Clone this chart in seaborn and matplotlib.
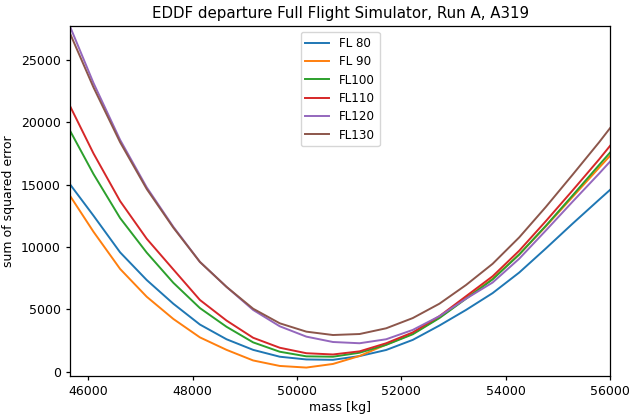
import matplotlib
matplotlib.use("Agg")
import matplotlib.pyplot as plt
import seaborn as sns
import pandas as pd

# mass grid [kg]
mass = [45590, 46100, 46610, 47120, 47630, 48140, 48650, 49160, 49670, 50180, 50690,
        51200, 51710, 52220, 52730, 53240, 53750, 54260, 54770, 55280, 55790, 56300]

levels = ["FL 80", "FL 90", "FL100", "FL110", "FL120", "FL130"]

# sum of squared error per flight level
fl080 = [15360, 12510, 9570, 7350, 5450, 3780, 2600, 1750, 1200, 980, 950,
         1250, 1740, 2550, 3700, 4950, 6300, 7950, 9880, 11860, 13790, 15700]
fl090 = [14490, 11220, 8240, 6010, 4230, 2750, 1750, 900, 460, 330, 620,
         1260, 2170, 3050, 4350, 5900, 7450, 9400, 11650, 14000, 16350, 18680]
fl100 = [19790, 15850, 12320, 9550, 7130, 5100, 3600, 2350, 1600, 1230, 1200,
         1520, 2150, 3000, 4300, 5850, 7400, 9400, 11700, 14120, 16570, 18990]
fl110 = [21810, 17500, 13680, 10660, 8200, 5750, 4100, 2720, 1920, 1480, 1380,
         1630, 2280, 3150, 4450, 6050, 7650, 9700, 12070, 14520, 17020, 19660]
fl120 = [28290, 23150, 18590, 14780, 11620, 8800, 6800, 4950, 3640, 2810, 2380,
         2280, 2600, 3350, 4450, 5850, 7150, 9060, 11320, 13620, 15880, 18220]
fl130 = [27700, 22800, 18400, 14650, 11550, 8800, 6800, 5050, 3880, 3210, 2940,
         3020, 3480, 4300, 5450, 6950, 8650, 10770, 13210, 15780, 18390, 21150]

series = [fl080, fl090, fl100, fl110, fl120, fl130]
frames = []
for name, vals in zip(levels, series):
    frames.append(pd.DataFrame({"mass": mass, "sse": vals, "level": name}))
df = pd.concat(frames, ignore_index=True)

plt.rcParams.update({
    "font.size": 9,
    "axes.titlesize": 10.8,
    "axes.labelsize": 9,
    "xtick.labelsize": 9,
    "ytick.labelsize": 9,
    "legend.fontsize": 8.6,
    "legend.labelspacing": 0.45,
    "axes.linewidth": 0.9,
    "xtick.major.width": 0.9,
    "ytick.major.width": 0.9,
    "xtick.major.size": 3.2,
    "ytick.major.size": 3.2,
})

fig = plt.figure(figsize=(6.29, 4.16), dpi=100)
ax = fig.add_axes([0.1113, 0.0962, 0.8585, 0.8413])

sns.lineplot(data=df, x="mass", y="sse", hue="level", hue_order=levels,
             palette="tab10", errorbar=None, sort=False, linewidth=1.4, ax=ax)

ax.set_xlim(45650, 56000)
ax.set_ylim(-345, 27720)
ax.set_xticks([46000, 48000, 50000, 52000, 54000, 56000])
ax.set_xlabel("mass [kg]", labelpad=2)
ax.set_ylabel("sum of squared error")
ax.set_title("EDDF departure Full Flight Simulator, Run A, A319", pad=6)
sns.move_legend(ax, "upper center", title=None)

fig.savefig("out.png", dpi=100)
plt.close(fig)
